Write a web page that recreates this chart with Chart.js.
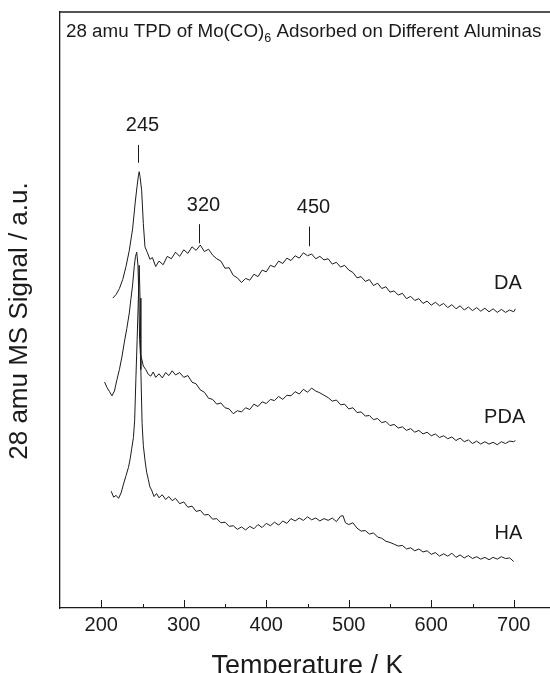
<!DOCTYPE html>
<html>
<head>
<meta charset="utf-8">
<script src="https://cdn.jsdelivr.net/npm/chart.js@4.4.1/dist/chart.umd.min.js"></script>
<style>
    html, body { margin: 0; padding: 0; background: #fff; overflow: hidden; }
    #wrap { width: 560px; height: 673px; position: relative; }
</style>
</head>
<body>
<div id="wrap"><canvas id="chartCanvas"></canvas></div>
<script>
// temperature (K) and 28 amu signal (a.u.)
const daTemp = [214, 218, 222, 226, 230, 234, 238, 241, 243, 245, 246, 247, 249, 251, 253, 256, 259, 262, 266, 270,
    275, 280, 285, 290, 295, 300, 305, 310, 315, 320, 325, 330, 335, 340, 345, 350, 355, 360, 365, 370,
    375, 380, 385, 390, 395, 400, 405, 410, 415, 420, 425, 430, 435, 440, 445, 450, 455, 460, 465, 470,
    475, 480, 485, 490, 495, 500, 505, 510, 515, 520, 525, 530, 535, 540, 545, 550, 555, 560, 565, 570,
    575, 580, 585, 590, 595, 600, 605, 610, 615, 620, 625, 630, 635, 640, 645, 650, 655, 660, 665, 670,
    675, 680, 685, 690, 695, 700, 702];
const daSignal = [52.0, 52.6, 53.6, 55.1, 57.3, 60.0, 63.6, 67.8, 70.3, 72.5, 73.2, 72.4, 70.0, 64.5, 60.6, 59.6, 58.5, 58.8, 57.3, 58.2,
    57.6, 59.0, 58.6, 59.7, 59.0, 60.1, 59.5, 60.6, 60.0, 60.9, 59.8, 60.2, 59.2, 58.6, 58.2, 57.0, 57.1, 55.8, 55.4, 54.6,
    55.3, 55.0, 56.0, 55.6, 56.7, 56.4, 57.5, 57.2, 58.2, 57.8, 58.7, 58.3, 59.1, 58.7, 59.6, 59.1, 59.4, 58.6, 59.0, 58.4,
    58.6, 57.7, 58.0, 57.2, 57.5, 56.7, 56.3, 55.4, 55.6, 54.8, 55.1, 54.1, 54.5, 53.6, 53.9, 53.0, 53.2, 52.5, 52.8, 51.9,
    52.3, 51.6, 51.9, 51.1, 51.5, 50.8, 51.3, 50.7, 51.1, 50.4, 50.9, 50.2, 50.7, 50.0, 50.5, 49.9, 50.4, 49.8, 50.3, 49.7,
    50.2, 49.6, 50.1, 49.6, 50.0, 49.7, 50.2];

const pdaTemp = [204, 207, 210, 213, 216, 219, 222, 225, 228, 231, 234, 236, 238, 240, 241.5, 243, 244.5, 245.5, 246.5, 247.5,
    249, 251, 254, 257, 260, 263, 266, 270, 274, 278, 282, 286, 290, 295, 300, 305, 310, 315, 320, 325,
    330, 335, 340, 345, 350, 355, 360, 365, 370, 375, 380, 385, 390, 395, 400, 405, 410, 415, 420, 425,
    430, 435, 440, 445, 450, 455, 460, 465, 470, 475, 480, 485, 490, 495, 500, 505, 510, 515, 520, 525,
    530, 535, 540, 545, 550, 555, 560, 565, 570, 575, 580, 585, 590, 595, 600, 605, 610, 615, 620, 625,
    630, 635, 640, 645, 650, 655, 660, 665, 670, 675, 680, 685, 690, 695, 700, 702];
const pdaSignal = [37.9, 37.0, 36.3, 35.6, 36.4, 38.3, 40.0, 42.1, 44.6, 46.9, 49.5, 51.9, 54.2, 57.3, 59.0, 59.7, 57.5, 52.5, 45.0, 42.5,
    41.8, 40.6, 40.0, 39.2, 38.9, 39.6, 38.7, 39.3, 38.6, 39.5, 39.0, 39.8, 39.1, 39.5, 38.7, 39.0, 37.9, 37.6, 36.6, 36.2,
    35.2, 35.0, 34.2, 34.4, 33.6, 33.4, 32.6, 33.1, 32.9, 33.6, 33.3, 34.2, 33.8, 34.6, 34.3, 35.0, 34.8, 35.5, 35.0, 35.7,
    35.6, 36.3, 35.9, 36.7, 36.2, 36.9, 36.4, 36.1, 35.7, 35.3, 34.7, 34.9, 34.1, 34.2, 33.4, 33.6, 32.8, 32.9, 32.2, 32.3,
    31.6, 31.8, 31.1, 31.3, 30.6, 30.8, 30.2, 30.4, 29.8, 30.1, 29.5, 29.8, 29.2, 29.5, 28.9, 29.2, 28.6, 28.9, 28.4, 28.7,
    28.1, 28.5, 27.9, 28.2, 27.6, 28.0, 27.5, 27.9, 27.5, 27.8, 27.4, 27.9, 27.6, 28.0, 27.9, 28.1];

const haTemp = [212, 215, 218, 221, 224, 227, 230, 233, 235, 237, 239, 240.5, 242, 243.5, 245, 246, 247, 248, 249.5, 251,
    253, 255, 257, 259, 261, 264, 267, 270, 274, 278, 282, 286, 290, 295, 300, 305, 310, 315, 320, 325,
    330, 335, 340, 345, 350, 355, 360, 365, 370, 375, 380, 385, 390, 395, 400, 405, 410, 415, 420, 425,
    430, 435, 440, 445, 450, 455, 460, 465, 470, 475, 480, 485, 490, 493, 496, 500, 505, 510, 515, 520,
    525, 530, 535, 540, 545, 550, 555, 560, 565, 570, 575, 580, 585, 590, 595, 600, 605, 610, 615, 620,
    625, 630, 635, 640, 645, 650, 655, 660, 665, 670, 675, 680, 685, 690, 695, 700];
const haSignal = [19.6, 18.6, 18.9, 18.4, 19.3, 20.8, 22.2, 23.6, 25.0, 26.8, 28.6, 31.5, 38.5, 45.0, 52.0, 57.5, 52.0, 40.0, 31.0, 27.3,
    24.8, 22.8, 21.6, 20.3, 19.8, 18.7, 19.2, 18.5, 19.0, 18.2, 18.7, 18.0, 18.4, 17.5, 17.8, 16.9, 17.1, 16.2, 16.4, 15.6,
    15.7, 14.9, 15.0, 14.3, 14.4, 13.7, 13.8, 13.2, 13.6, 13.1, 13.7, 13.3, 14.0, 13.5, 14.2, 13.8, 14.4, 13.9, 14.6, 14.2,
    15.0, 14.6, 15.1, 14.7, 15.3, 14.8, 15.1, 14.6, 15.0, 14.7, 15.1, 14.5, 15.4, 15.5, 14.3, 14.0, 14.3, 13.4, 12.9, 13.0,
    12.4, 12.6, 11.9, 11.7, 11.2, 11.0, 10.7, 10.4, 10.5, 9.9, 10.1, 9.6, 9.9, 9.4, 9.6, 9.0, 9.3, 8.7, 9.1, 8.7,
    9.2, 8.5, 8.9, 8.4, 8.8, 8.3, 8.6, 8.2, 8.5, 8.1, 8.5, 8.2, 8.6, 8.3, 8.4, 7.8];

const tickLabels = [200, 300, 400, 500, 600, 700];

// peak markers: label, temperature of the tick, signal range of the tick
const peakMarks = [
    { text: '245', temp: 245, from: 74.7, to: 77.7 },
    { text: '320', temp: 319, from: 61.2, to: 64.4 },
    { text: '450', temp: 452, from: 60.7, to: 64.0 }
];
const seriesNames = [
    { text: 'DA', temp: 693, signal: 54.5 },
    { text: 'PDA', temp: 689, signal: 32.0 },
    { text: 'HA', temp: 693.5, signal: 12.5 }
];

const FONT = 'Arial, "Liberation Sans", Helvetica, sans-serif';
const INK = '#1b1b1b';

function toPoints(temps, values) {
    return temps.map((t, i) => ({ x: t, y: values[i] }));
}

const decorations = {
    id: 'decorations',
    afterDraw(chart) {
        const ctx = chart.ctx;
        const area = chart.chartArea;
        const x = chart.scales.x;
        const y = chart.scales.y;
        ctx.save();

        // top edge of the frame
        ctx.strokeStyle = INK;
        ctx.lineWidth = 1.3;
        ctx.beginPath();
        ctx.moveTo(area.left, area.top);
        ctx.lineTo(area.right + 5, area.top);
        ctx.stroke();

        // inward ticks on the temperature axis
        ctx.lineWidth = 1;
        for (let v = 200; v <= 700; v += 50) {
            const px = Math.round(x.getPixelForValue(v)) + 0.5;
            const len = v % 100 === 0 ? 8 : 4;
            ctx.beginPath();
            ctx.moveTo(px, area.bottom);
            ctx.lineTo(px, area.bottom - len);
            ctx.stroke();
        }

        // title with subscript
        ctx.fillStyle = INK;
        ctx.textBaseline = 'alphabetic';
        ctx.textAlign = 'left';
        const base = area.top + 25;
        let tx = area.left + 6;
        ctx.font = '18.8px ' + FONT;
        const part1 = '28 amu TPD of Mo(CO)';
        ctx.fillText(part1, tx, base);
        tx += ctx.measureText(part1).width;
        ctx.font = '12.5px ' + FONT;
        ctx.fillText('6', tx, base + 5);
        tx += ctx.measureText('6').width;
        ctx.font = '18.8px ' + FONT;
        ctx.fillText(' Adsorbed on Different Aluminas', tx, base);

        // signal axis title
        ctx.save();
        ctx.translate(20, (area.top + area.bottom) / 2 + 11);
        ctx.rotate(-Math.PI / 2);
        ctx.textAlign = 'center';
        ctx.textBaseline = 'middle';
        ctx.font = '26px ' + FONT;
        ctx.fillText('28 amu MS Signal / a.u.', 0, 0);
        ctx.restore();

        // peak markers
        ctx.font = '20px ' + FONT;
        ctx.textAlign = 'center';
        ctx.textBaseline = 'middle';
        peakMarks.forEach(m => {
            const px = Math.round(x.getPixelForValue(m.temp)) + 0.5;
            const top = y.getPixelForValue(m.to);
            ctx.beginPath();
            ctx.moveTo(px, y.getPixelForValue(m.from));
            ctx.lineTo(px, top);
            ctx.stroke();
            ctx.fillText(m.text, px + 4, top - 19);
        });

        // series names
        seriesNames.forEach(s => {
            ctx.fillText(s.text, x.getPixelForValue(s.temp), y.getPixelForValue(s.signal));
        });
        ctx.restore();
    }
};

const lineStyle = {
    borderColor: INK,
    borderWidth: 1,
    pointRadius: 0,
    tension: 0,
    fill: false
};

new Chart(document.getElementById('chartCanvas').getContext('2d'), {
    type: 'line',
    data: {
        datasets: [
            Object.assign({ label: 'DA', data: toPoints(daTemp, daSignal) }, lineStyle),
            Object.assign({ label: 'PDA', data: toPoints(pdaTemp, pdaSignal) }, lineStyle),
            Object.assign({ label: 'HA', data: toPoints(haTemp, haSignal) }, lineStyle)
        ]
    },
    options: {
        responsive: true,
        maintainAspectRatio: false,
        animation: false,
        events: [],
        layout: { padding: { top: 12, right: 2, left: 60, bottom: 0 } },
        plugins: {
            legend: { display: false },
            tooltip: { enabled: false }
        },
        scales: {
            x: {
                type: 'linear',
                min: 150,
                max: 750,
                grid: { display: false, drawTicks: false },
                border: { display: true, color: INK, width: 1.3 },
                ticks: {
                    stepSize: 50,
                    autoSkip: false,
                    maxRotation: 0,
                    padding: 5,
                    color: INK,
                    font: { family: FONT, size: 20 },
                    callback: v => tickLabels.includes(v) ? String(v) : ''
                },
                title: {
                    display: true,
                    text: 'Temperature / K',
                    color: INK,
                    font: { family: FONT, size: 27, lineHeight: 0.5 },
                    padding: { top: 17.5, bottom: 0 }
                }
            },
            y: {
                min: 0,
                max: 100,
                grid: { display: false, drawTicks: false },
                border: { display: true, color: INK, width: 1.3 },
                ticks: { display: false },
                title: { display: false }
            }
        }
    },
    plugins: [decorations]
});
</script>
</body>
</html>
